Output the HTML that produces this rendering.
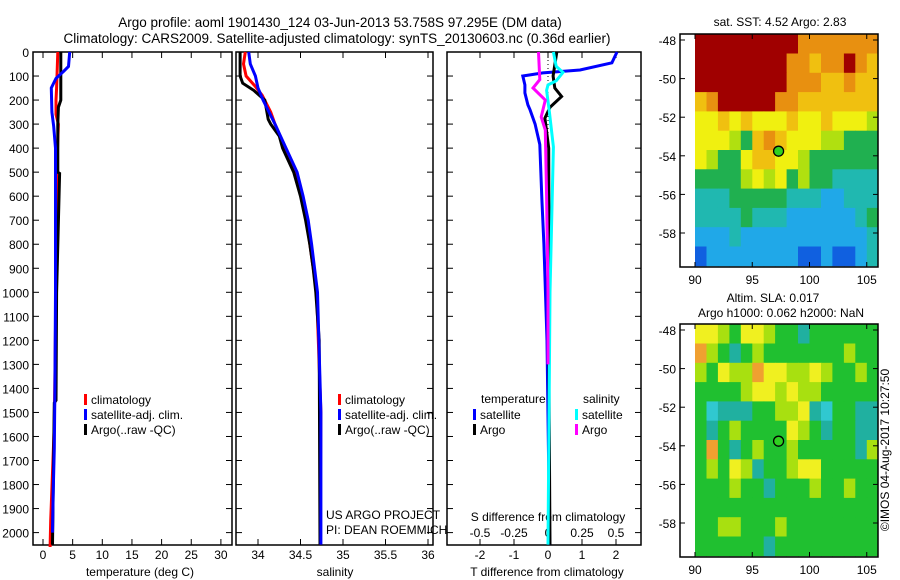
<!DOCTYPE html>
<html><head><meta charset="utf-8"><style>
body{margin:0;background:#fff}
svg{display:block;font-family:"Liberation Sans",sans-serif;font-size:12px}
</style></head><body>
<svg id="c" width="900" height="580"></svg>
<script>
const depthTicks=[0,100,200,300,400,500,600,700,800,900,1000,1100,1200,1300,1400,1500,1600,1700,1800,1900,2000];
const tempTicks=[0,5,10,15,20,25,30];
const salTicks=[34,34.5,35,35.5,36];
const salTickLabels=["34","34.5","35","35.5","36"];
const tdTicks=[-2,-1,0,1,2];
const sdTicks=[-0.5,-0.25,0,0.25,0.5];
const sdTickLabels=["-0.5","-0.25","0","0.25","0.5"];
// temperature profiles
const tArgoD=[0,200,230,300,500,505,1000,1450,1460,2050];
const tArgoV=[3.0,3.0,2.6,2.5,2.5,2.8,2.3,2.2,1.9,1.6];
const tClimD=[0,150,200,260,300,500,1000,1150,1550,1750,1950,2060];
const tClimV=[2.5,2.3,2.2,2.2,2.6,2.3,2.2,2.1,1.9,1.6,1.3,1.2];
const tSatD=[0,60,80,110,150,250,310,400,600,1000,1400,1650,1850,2000];
const tSatV=[4.5,4.3,3.5,2.2,1.4,1.5,1.8,2.1,2.1,2.1,2.0,1.9,1.7,1.6];
// salinity profiles
const sArgoD=[0,100,130,160,200,280,300,350,400,500,600,700,800,900,1000,1200,2050];
const sArgoV=[33.79,33.79,33.82,33.95,34.08,34.12,34.15,34.25,34.29,34.42,34.5,34.56,34.61,34.65,34.68,34.72,34.73];
const sClimD=[0,50,100,140,180,250,300,400,500,600,700,1000,1500,2050];
const sClimV=[33.85,33.83,33.86,33.96,34.05,34.15,34.2,34.32,34.45,34.52,34.57,34.69,34.74,34.73];
const sSatD=[0,50,100,150,200,300,400,500,600,700,800,1000,1500,2050];
const sSatV=[33.89,33.91,33.97,34.0,34.06,34.2,34.33,34.46,34.53,34.59,34.63,34.7,34.74,34.74];
// difference profiles
const dTSatD=[0,45,75,87,100,137,170,220,240,300,385,615,800,1200,2050];
const dTSatV=[2.03,1.88,0.94,-0.15,-0.74,-0.68,-0.68,-0.59,-0.53,-0.38,-0.24,-0.18,-0.12,-0.03,0.05];
const dTArgoD=[0,100,150,185,230,275,400,800,1400,2050];
const dTArgoV=[0.26,0.15,0.2,0.4,0.06,-0.09,0.02,0.03,0.03,0.06];
const dSSatD=[0,60,85,120,137,160,250,395,1000,2050];
const dSSatV=[0.04,0.06,0.11,0.06,0.0,-0.01,0.01,0.04,0.015,0.0];
const dSArgoD=[0,115,150,200,270,325,600,1000,1300];
const dSArgoV=[-0.07,-0.06,-0.11,-0.02,-0.05,-0.02,-0.01,0,0];
// maps
const lonTicks=[90,95,100,105];
const latTicks=[-48,-50,-52,-54,-56,-58];
const sstGrid=[
[8,8,8,8,8,8,8,8,8,7,7,7,7,7,7,7],
[8,8,8,8,8,8,8,8,7,7,6,7,7,8,7,6],
[8,8,8,8,8,8,8,8,7,7,7,6,6,7,6,6],
[6,7,8,8,8,8,8,7,7,6,6,6,6,6,6,6],
[5,5,6,5,6,5,5,5,6,5,5,6,5,5,5,4],
[5,5,5,4,3,6,7,6,5,5,5,4,4,3,3,3],
[5,4,3,3,5,6,6,5,5,4,3,3,3,3,3,3],
[3,3,3,3,4,5,4,5,3,4,3,3,2,2,2,2],
[2,2,2,3,3,3,3,3,2,2,2,1,1,2,2,2],
[2,2,2,2,3,2,2,2,1,1,1,1,1,1,2,3],
[1,1,1,2,1,1,1,1,1,1,1,1,1,1,1,2],
[0,1,1,1,1,1,1,1,1,0,0,1,0,0,1,2]];
const slaGrid=[
[4,4,3,2,4,4,3,2,2,1,2,2,2,2,2,2],
[5,3,2,1,2,3,2,2,2,2,2,2,2,3,2,2],
[3,2,4,3,3,5,4,4,3,3,4,3,2,2,3,2],
[2,2,2,2,3,4,4,3,4,3,3,2,2,2,2,2],
[2,0,1,1,1,2,2,3,3,4,1,0,2,2,1,1],
[2,1,2,3,2,2,2,2,4,3,2,1,2,2,1,1],
[2,5,2,1,2,3,2,2,3,2,2,2,2,2,1,3],
[2,3,2,4,3,1,2,2,3,4,4,2,2,2,2,2],
[2,2,2,3,2,2,1,2,2,2,3,2,2,3,2,2],
[2,2,2,2,2,2,2,2,2,2,2,2,2,2,2,2],
[2,2,3,3,2,2,2,3,2,2,2,2,2,2,2,2],
[2,2,2,2,2,2,1,2,2,2,2,2,2,2,2,2]];
const argoLon=97.3, argoLat=-53.76;

const NS="http://www.w3.org/2000/svg";
const svg=document.getElementById('c');
function E(t,a,p){const e=document.createElementNS(NS,t);for(const k in a)e.setAttribute(k,a[k]);(p||svg).appendChild(e);return e;}
function T(x,y,s,anchor,p){const e=E('text',{x:x,y:y,'text-anchor':anchor||'start'},p);e.textContent=s;return e;}
const pTop=52,pBot=545;
const yD=d=>pTop+d*0.2403;
const xT=v=>43+(v-0)*5.93;
const xS=v=>258+(v-34)*85;
const xTD=v=>548+v*34;
const xSD=v=>548+v*136;

function frame(name,x0,x1){
  const g=E('g',{});
  
  
  E('rect',{x:x0,y:pTop,width:x1-x0,height:pBot-pTop,fill:'none',stroke:'#000','stroke-width':1.5},g);
  depthTicks.forEach(d=>{E('line',{x1:x0,x2:x0+6,y1:yD(d),y2:yD(d),stroke:'#000'},g);E('line',{x1:x1,x2:x1-6,y1:yD(d),y2:yD(d),stroke:'#000'},g);});
  return g;
}
function xticks(g,ticks,f,labels,ly){
  ticks.forEach((t,i)=>{const x=f(t);E('line',{x1:x,x2:x,y1:pBot,y2:pBot-6,stroke:'#000'},g);E('line',{x1:x,x2:x,y1:pTop,y2:pTop+6,stroke:'#000'},g);
    if(labels){T(x,ly,labels[i],'middle',g);}});
}
function line(name,D,V,fx,color){
  const p=E('polyline',{points:D.map((d,i)=>fx(V[i]).toFixed(1)+','+yD(d).toFixed(1)).join(' '),fill:'none',stroke:color,'stroke-width':3,'stroke-linejoin':'miter'});
  
  
}
let t1=T(340,27,"Argo profile: aoml 1901430_124 03-Jun-2013 53.758S 97.295E (DM data)",'middle');t1.setAttribute('font-size','13.5');


let t2=T(337,43,"Climatology: CARS2009. Satellite-adjusted climatology: synTS_20130603.nc (0.36d earlier)",'middle');t2.setAttribute('font-size','13.5');



let g1=frame('temperature-panel',33,232);
depthTicks.forEach(d=>{T(29,yD(d)+5,String(d),'end',g1);});
xticks(g1,tempTicks,xT,tempTicks.map(String),559);
T(140,576,"temperature (deg C)",'middle',g1);
line('temp-climatology',tClimD,tClimV,xT,'#f00');
line('temp-argo',tArgoD,tArgoV,xT,'#000');
line('temp-satellite',tSatD,tSatV,xT,'#00f');
function legend(x,y,items,p){items.forEach((it,i)=>{E('rect',{x:x,y:y+i*15-9,width:3,height:11,fill:it[1]},p);T(x+7,y+i*15+1,it[0],'start',p);});}
legend(84,403,[["climatology","#f00"],["satellite-adj. clim.","#00f"],["Argo(..raw -QC)","#000"]],g1);

let g2=frame('salinity-panel',236,433);
xticks(g2,salTicks,xS,salTickLabels,559);
T(335,576,"salinity",'middle',g2);
line('sal-climatology',sClimD,sClimV,xS,'#f00');
line('sal-argo',sArgoD,sArgoV,xS,'#000');
line('sal-satellite',sSatD,sSatV,xS,'#00f');
legend(338,403,[["climatology","#f00"],["satellite-adj. clim.","#00f"],["Argo(..raw -QC)","#000"]],g2);
T(326,519,"US ARGO PROJECT",'start',g2);T(326,534,"PI: DEAN ROEMMICH",'start',g2);

let g3=frame('difference-panel',447,641);
xticks(g3,tdTicks,xTD,tdTicks.map(String),559);
sdTicks.forEach((t,i)=>{T(xSD(t),537,sdTickLabels[i],'middle',g3);});
T(548,521,"S difference from climatology",'middle',g3);
T(547,576,"T difference from climatology",'middle',g3);
E('line',{x1:548,x2:548,y1:pTop,y2:pBot,stroke:'#000','stroke-dasharray':'1,3'},g3);
line('tdiff-satellite',dTSatD,dTSatV,xTD,'#00f');
line('tdiff-argo',dTArgoD,dTArgoV,xTD,'#000');
line('sdiff-satellite',dSSatD,dSSatV,xSD,'#0ff');
line('sdiff-argo',dSArgoD,dSArgoV,xSD,'#f0f');
T(481,403,"temperature",'start',g3);T(583,403,"salinity",'start',g3);
legend(473,418,[["satellite","#00f"],["Argo","#000"]],g3);
legend(575,418,[["satellite","#0ff"],["Argo","#f0f"]],g3);

const sstCols=['#1060e0','#20a8e8','#20b8b0','#20b050','#b0e010','#f0f010','#f0c010','#e89010','#a00000'];
const slaCols=['#30c8d0','#20b0a0','#20c030','#a8e010','#f0f020','#f0a030'];
const mx=lon=>695+(lon-90)*11.45;
function map(name,y0,grid,cols){
  const g=E('g',{});
  
  
  const my=lat=>y0+6+(-48-lat)*19.3;
  const top0=my(-47.7);
  grid.forEach((row,r)=>row.forEach((v,c)=>{
    const x=mx(90+c), y=top0+r*(19.3);
    const cell=E('rect',{x:x.toFixed(1),y:y.toFixed(1),width:11.9,height:19.8,fill:cols[v]},g);
    
    
  }));
  E('rect',{x:878,y:y0,width:22,height:233,fill:'#fff'},g);
  E('rect',{x:680,y:y0,width:198,height:233,fill:'none',stroke:'#000','stroke-width':1.5},g);
  lonTicks.forEach(l=>{const x=mx(l);E('line',{x1:x,x2:x,y1:y0+233,y2:y0+228,stroke:'#000'},g);E('line',{x1:x,x2:x,y1:y0,y2:y0+5,stroke:'#000'},g);T(x,y0+250,String(l),'middle',g);});
  latTicks.forEach(l=>{const y=my(l);E('line',{x1:680,x2:685,y1:y,y2:y,stroke:'#000'},g);E('line',{x1:878,x2:873,y1:y,y2:y,stroke:'#000'},g);T(676,y+5,String(l),'end',g);});
  const m=E('circle',{cx:mx(argoLon),cy:my(argoLat),r:5,fill:'#30d020',stroke:'#000','stroke-width':1.3},g);
  
  
  return g;
}
map('sst-map',34,sstGrid,sstCols);
let g5=map('sla-map',324,slaGrid,slaCols);
let mt=T(780,26,"sat. SST: 4.52 Argo: 2.83",'middle');


T(773,302,"Altim. SLA: 0.017",'middle',g5);T(781,317,"Argo h1000: 0.062 h2000: NaN",'middle',g5);
let cp=T(0,0,"©IMOS 04-Aug-2017 10:27:50",'middle');cp.setAttribute('transform','translate(889,450) rotate(-90)');


</script>
</body></html>
